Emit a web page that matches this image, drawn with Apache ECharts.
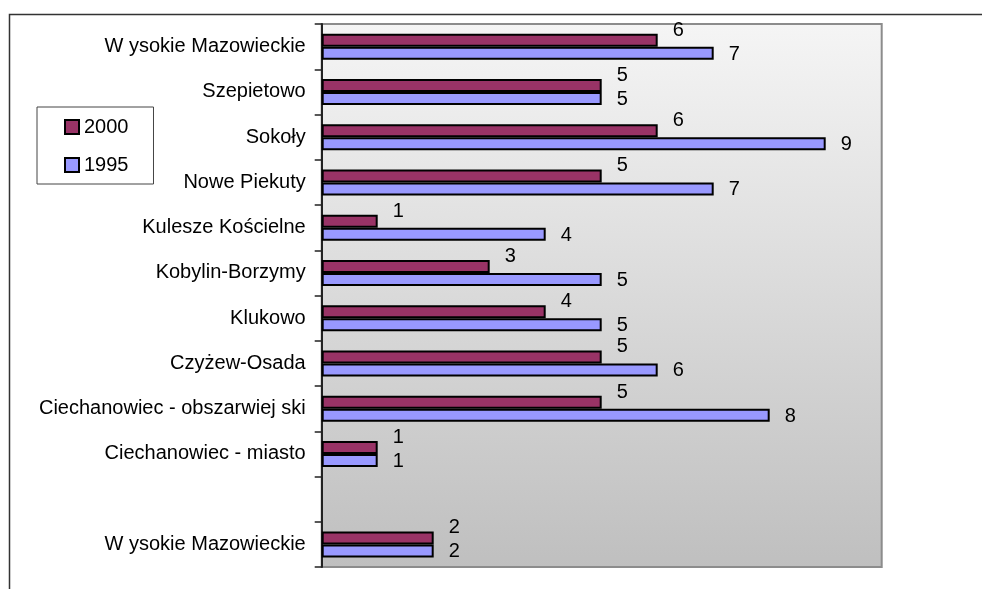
<!DOCTYPE html>
<html>
<head>
<meta charset="utf-8">
<script src="https://cdn.jsdelivr.net/npm/echarts@6/dist/echarts.min.js"></script>
<style>html,body{margin:0;padding:0;background:#fff;}#c{width:982px;height:589px;}</style>
</head>
<body>
<div id="c"></div>
<script>
var categories = ['W ysokie Mazowieckie', '', 'Ciechanowiec - miasto', 'Ciechanowiec - obszarwiej ski', 'Czyżew-Osada', 'Klukowo', 'Kobylin-Borzymy', 'Kulesze Kościelne', 'Nowe Piekuty', 'Sokoły', 'Szepietowo', 'W ysokie Mazowieckie'];
var values2000 = [2, null, 1, 5, 5, 4, 3, 1, 5, 6, 5, 6];
var values1995 = [2, null, 1, 8, 6, 5, 5, 4, 7, 9, 5, 7];
var seriesNames = ['2000', '1995'];

var FONT = '"Liberation Sans", Arial, sans-serif';
var chart = echarts.init(document.getElementById('c'), null, {renderer: 'canvas'});
chart.setOption({
  animation: false,
  textStyle: {fontFamily: FONT},
  graphic: [{
    type: 'rect', left: 7, top: 12, z: -10,
    shape: {x: 0, y: 0, width: 1000, height: 600},
    style: {fill: 'none', stroke: '#333', lineWidth: 1.5}
  }],
  legend: {
    orient: 'vertical', left: 37, top: 107,
    data: seriesNames,
    itemWidth: 14, itemHeight: 14, itemGap: 18,
    padding: [10, 25, 9, 27],
    borderColor: '#444', borderWidth: 1, backgroundColor: '#fff',
    icon: 'rect',
    textStyle: {fontSize: 20, color: '#000', fontFamily: FONT, lineHeight: 20, padding: [0,0,0,0]}
  },
  grid: {
    left: 321.7, top: 24, right: 100.3, bottom: 22,
    show: true,
    backgroundColor: new echarts.graphic.LinearGradient(0, 0, 0, 1, [
      {offset: 0, color: '#f5f5f5'}, {offset: 1, color: '#bfbfbf'}
    ]),
    borderColor: '#8c8c8c', borderWidth: 2
  },
  xAxis: {
    type: 'value', min: 0, max: 10, interval: 1,
    axisLine: {show: false}, axisTick: {show: false}, axisLabel: {show: false}, splitLine: {show: false}
  },
  yAxis: {
    type: 'category', data: categories,
    axisLine: {show: true, lineStyle: {color: '#222', width: 2}},
    axisTick: {show: true, length: 7, lineStyle: {color: '#222', width: 1.5}},
    axisLabel: {fontSize: 20, color: '#000', margin: 16, fontFamily: FONT, interval: 0},
    splitLine: {show: false}
  },
  series: [{
    name: seriesNames[0], type: 'bar', data: values2000,
    barWidth: 13, barGap: '0%',
    itemStyle: {color: '#993366', borderColor: '#000', borderWidth: 2},
    label: {show: true, position: 'right', distance: 15, offset: [0, -10], fontSize: 20, color: '#000', fontFamily: FONT}
  }, {
    name: seriesNames[1], type: 'bar', data: values1995,
    barWidth: 13, barGap: '0%',
    itemStyle: {color: '#9999ff', borderColor: '#000', borderWidth: 2},
    label: {show: true, position: 'right', distance: 15, offset: [0, 1], fontSize: 20, color: '#000', fontFamily: FONT}
  }]
});
</script>
</body>
</html>
